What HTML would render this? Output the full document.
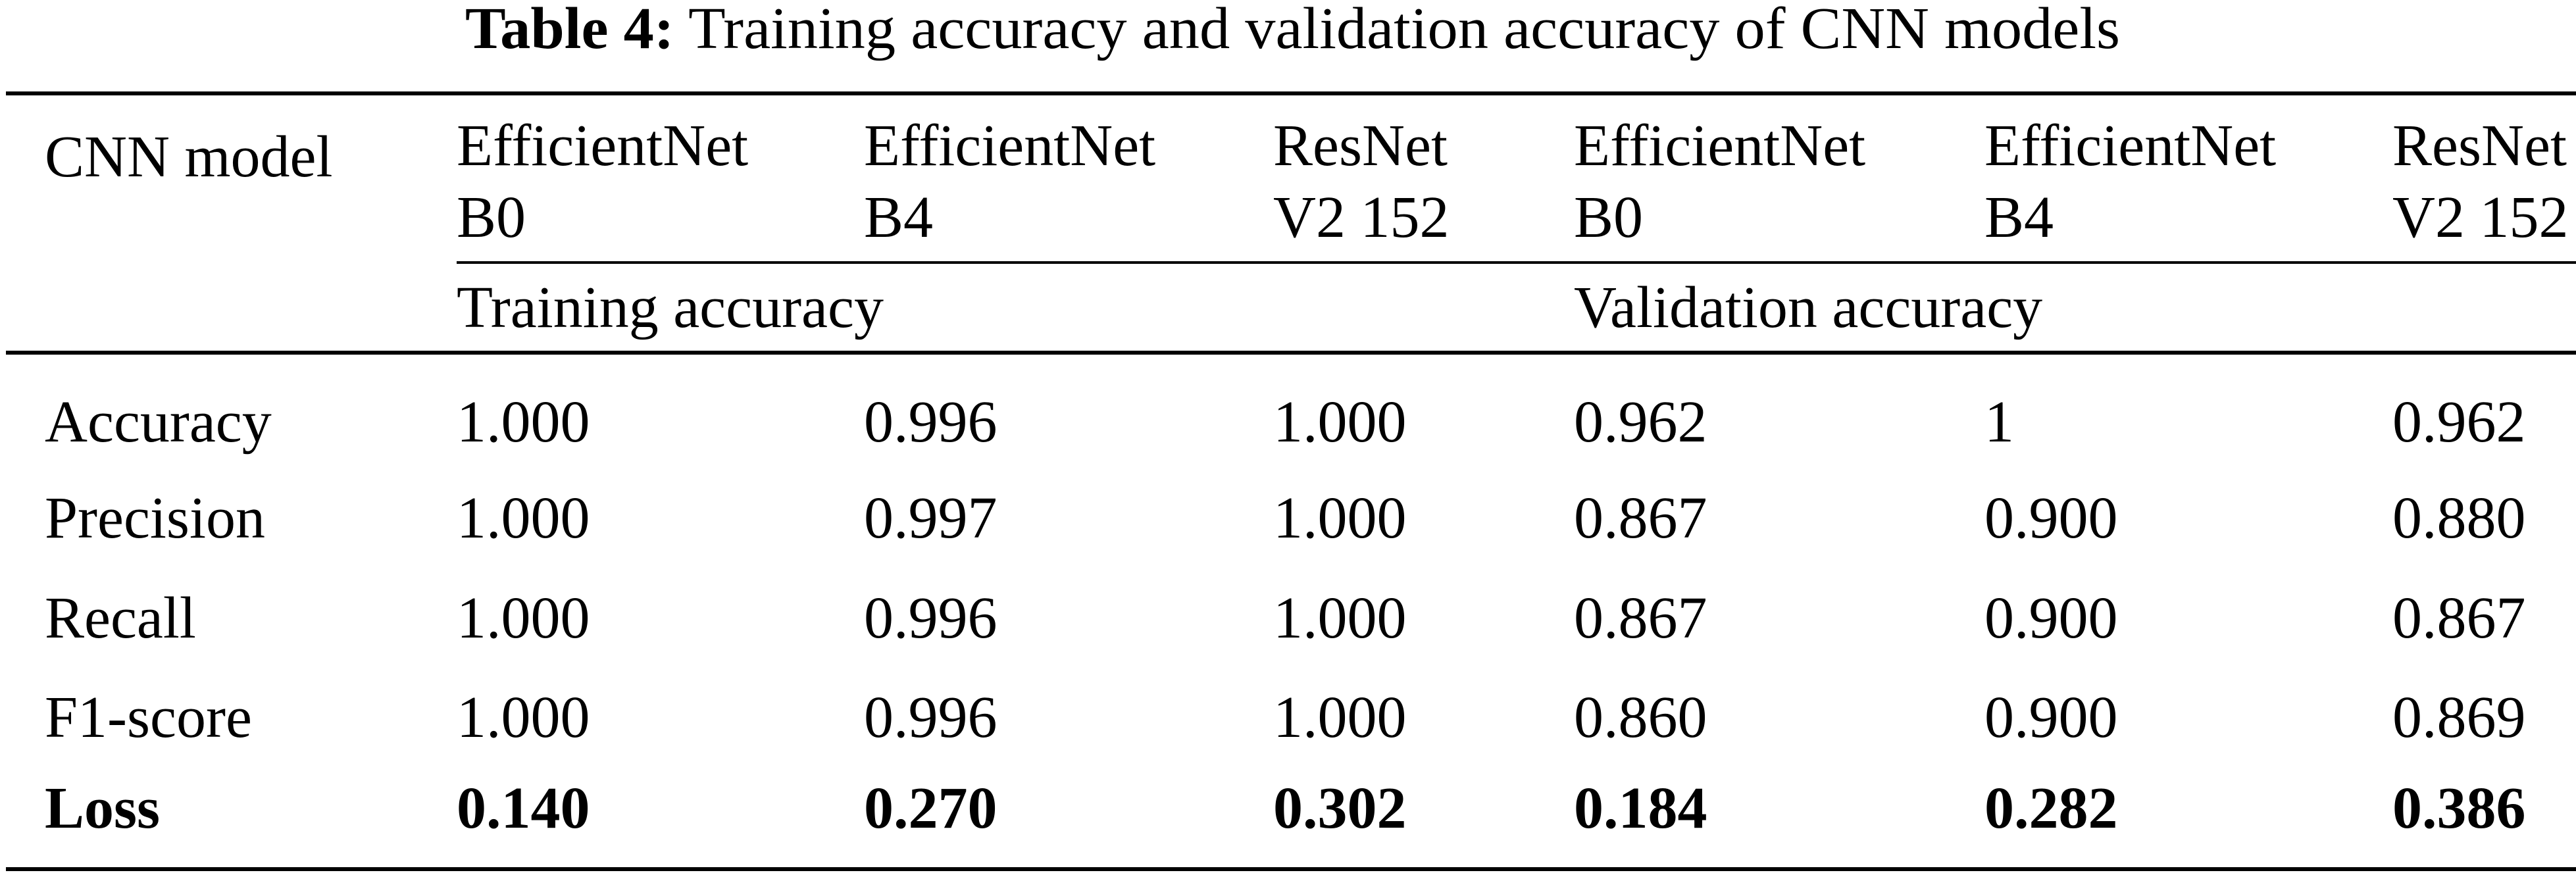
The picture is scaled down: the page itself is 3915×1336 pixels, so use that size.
<!DOCTYPE html>
<html><head><meta charset="utf-8">
<style>
html,body{margin:0;padding:0;background:#fff;}
svg{display:block;}
text{font-family:"Liberation Serif",serif;fill:#000;}
</style></head>
<body>
<svg id="tbl" width="3915" height="1336" viewBox="0 0 3915 1336" xmlns="http://www.w3.org/2000/svg">
<text x="707" y="73" font-size="90" textLength="2515" lengthAdjust="spacingAndGlyphs"><tspan font-weight="bold">Table 4:</tspan>  Training accuracy and validation accuracy of CNN models</text>
<rect x="9" y="139" width="3906" height="6"/>
<rect x="694" y="397" width="3221" height="4"/>
<rect x="9" y="533" width="3906" height="6"/>
<rect x="9" y="1318" width="3906" height="6"/>
<text x="68" y="268" font-size="90">CNN model</text>
<text x="694" y="497" font-size="90">Training accuracy</text>
<text x="2392" y="497" font-size="90">Validation accuracy</text>
<g id="body"></g>
</svg>
<script>
const colX = [694, 1313, 1935, 2392, 3016, 3636];
const headerLine1 = ["EfficientNet","EfficientNet","ResNet","EfficientNet","EfficientNet","ResNet"];
const headerLine2 = ["B0","B4","V2 152","B0","B4","V2 152"];
const rowLabels = ["Accuracy","Precision","Recall","F1-score","Loss"];
const rowAccuracy = ["1.000","0.996","1.000","0.962","1","0.962"];
const rowPrecision = ["1.000","0.997","1.000","0.867","0.900","0.880"];
const rowRecall = ["1.000","0.996","1.000","0.867","0.900","0.867"];
const rowF1 = ["1.000","0.996","1.000","0.860","0.900","0.869"];
const rowLoss = ["0.140","0.270","0.302","0.184","0.282","0.386"];
const rows = [rowAccuracy,rowPrecision,rowRecall,rowF1,rowLoss];
const rowY = [671, 817, 969, 1120, 1258];
const NS = "http://www.w3.org/2000/svg";
const g = document.getElementById('body');
function txt(x,y,s,bold){
  const t=document.createElementNS(NS,'text');
  t.setAttribute('x',x);t.setAttribute('y',y);t.setAttribute('font-size','90');
  if(bold)t.setAttribute('font-weight','bold');
  t.textContent=s;g.appendChild(t);return t;
}
headerLine1.forEach((h,i)=>{
  const a=txt(colX[i],251,h,false);
  
  
  const b=txt(colX[i],360,headerLine2[i],false);
  
  
});
rows.forEach((r,ri)=>{
  const bold = ri===4;
  const l=txt(68,rowY[ri],rowLabels[ri],bold);
  
  
  r.forEach((v,ci)=>{
    const c=txt(colX[ci],rowY[ri],v,bold);
    
    
  });
});
</script>
</body></html>
